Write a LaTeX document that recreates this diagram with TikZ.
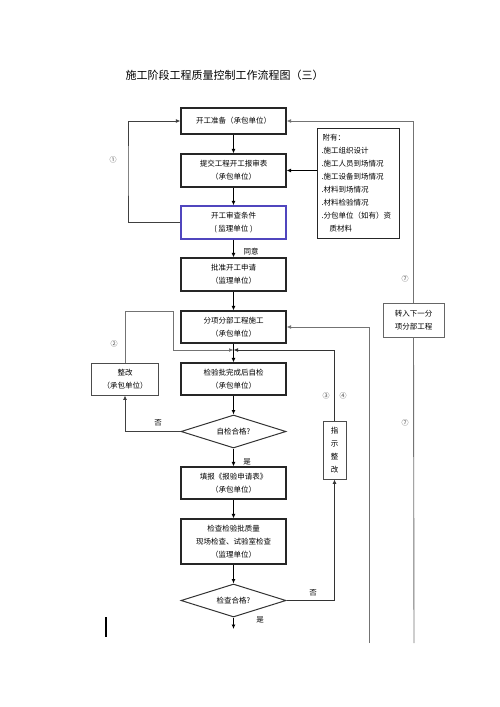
\documentclass[tikz,border=0pt]{standalone}
\usepackage{fontspec}
\setmainfont{Noto Sans CJK SC}
\usepackage{tikz}
\usetikzlibrary{arrows.meta,shapes.geometric}
\definecolor{reviewblue}{RGB}{80,70,190}

\begin{document}
\begin{tikzpicture}[x=1pt,y=-1pt,line width=1pt,>={Latex[length=4.5pt,width=4pt]},
  txt/.style={font=\fontsize{7.5}{13}\selectfont,align=center},
  box/.style={txt,draw=black!85,line width=1.1pt,rectangle,inner sep=0pt,minimum width=105pt},
  choice/.style={txt,draw=black!80,diamond,aspect=3.2,inner sep=0pt,minimum width=105pt,minimum height=33pt},
  thin/.style={draw=black!55,line width=0.9pt},
  num/.style={font=\fontsize{7}{8}\selectfont,text=black!70}]
\useasboundingbox (0,0) rectangle (500,707);

\node [font=\fontsize{11}{13}\selectfont] (title) at (224.5,75) {施工阶段工程质量控制工作流程图（三）};

% main column
\node [box,minimum height=26pt] (ready) at (233.5,121) {开工准备（承包单位）};
\node [box,minimum height=33pt] (report) at (233.5,170.5) {提交工程开工报审表\\（承包单位）};
\node [box,minimum height=33pt,draw=reviewblue,line width=1.3pt] (review) at (233.5,222.5) {开工审查条件\\( 监理单位 )};
\node [box,minimum height=33pt] (approve) at (233.5,274.5) {批准开工申请\\（监理单位）};
\node [box,minimum height=32pt] (build) at (233.5,327) {分项分部工程施工\\（承包单位）};
\node [box,minimum height=32pt] (selfchk) at (233.5,379) {检验批完成后自检\\（承包单位）};
\node [choice] (selfok) at (233.5,431.5) {自检合格?};
\node [box,minimum height=32pt] (apply) at (233.5,483) {填报《报验申请表》\\（承包单位）};
\node [box,minimum height=45pt] (inspect) at (233.5,541.5) {检查检验批质量\\现场检查、试验室检查\\（监理单位）};
\node [choice] (passok) at (233.5,600.5) {检查合格?};
\coordinate (done) at (233.5,629);

% side boxes
\node [box,line width=1pt,minimum width=82pt,minimum height=110pt,align=left,anchor=north west,text width=74pt] (annex) at (317,128)
  {\hspace*{1pt}附有：\\.施工组织设计\\.施工人员到场情况\\.施工设备到场情况\\.材料到场情况\\.材料检验情况\\.分包单位（如有）资\\\hspace*{8pt}质材料};
\node [box,draw=black!70,line width=0.9pt,minimum width=67pt,minimum height=32pt] (fix) at (125,379) {整改\\（承包单位）};
\node [box,draw=black!70,line width=0.9pt,minimum width=23pt,minimum height=58pt] (guide) at (334.5,450) {指\\示\\整\\改};
\node [box,draw=black!60,line width=0.9pt,minimum width=61pt,minimum height=34pt] (next) at (413.5,320) {转入下一分\\项分部工程};

% main flow
\draw[->] (ready) -- (report);
\draw[->] (report) -- (review);
\draw[->] (review) -- (approve);
\draw[->] (approve) -- (build);
\draw[->] (build) -- (selfchk);
\draw[->] (selfchk) -- (selfok);
\draw[->] (selfok) -- (apply);
\draw[->] (apply) -- (inspect);
\draw[->] (inspect) -- (passok);
\draw[->] (passok) -- (done);

\node [txt] at (251,252) {同意};
\node [txt] at (247,462) {是};
\node [txt] at (260,620) {是};

% loops
\coordinate (loopL) at (128,170);
\draw[->,draw=black!75] (review.west) -| (loopL) |- (ready.west);
\node [num] at (113,160) {①};

\draw[->] (annex.west |- report.east) -- (report.east);

\coordinate (fixTurn) at (173,311);
\coordinate (mid) at (233.5,350);
\draw[->,thin] (fix.north) |- (fixTurn) |- (mid);
\draw[->,draw=black!80] (guide.north) |- (mid);
\node [num] at (114,344) {②};
\node [num] at (326,396) {③};
\node [num] at (343,396) {④};

\draw[->,draw=black!75] (selfok.west) -| (fix.south);
\node [txt] at (158,423) {否};
\draw[->,draw=black!80] (passok.east) -| (guide.south);
\node [txt] at (313,593) {否};

% right side
\coordinate (outerEnd) at (414,643);
\coordinate (innerEnd) at (369,643);
\draw[->,thin] (next.north) |- (ready.east);
\draw[thin] (next.south) -- (outerEnd);
\draw[->,thin] (innerEnd) |- (build.east);
\node [num] at (405,279) {⑦};
\node [num] at (405,423) {⑦};

\draw[line width=1.5pt] (106,617) -- (106,637);

\end{tikzpicture}
\end{document}
